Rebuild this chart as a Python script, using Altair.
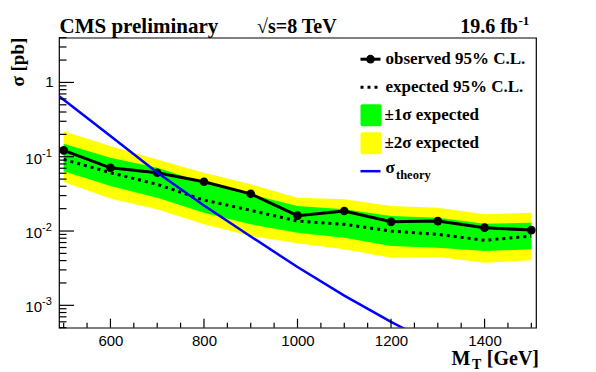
import altair as alt
import pandas as pd

# ---------------- data ----------------
mass = [500, 600, 700, 800, 900, 1000, 1100, 1200, 1300, 1400, 1500]
observed = [0.1216, 0.0710, 0.0608, 0.0461, 0.0317, 0.0161, 0.0186, 0.0133, 0.0136, 0.0111, 0.0103]
expected = [0.092, 0.061, 0.0425, 0.0261, 0.0190, 0.0136, 0.0123, 0.0100, 0.00903, 0.0075, 0.00857]
one_sigma_up = [0.149, 0.0966, 0.071, 0.0446, 0.0311, 0.0217, 0.0196, 0.0159, 0.0151, 0.0125, 0.0129]
one_sigma_down = [0.064, 0.0403, 0.0281, 0.0176, 0.0123, 0.0095, 0.00812, 0.00628, 0.00597, 0.00538, 0.00567]
two_sigma_up = [0.221, 0.139, 0.092, 0.0608, 0.0425, 0.0281, 0.0267, 0.0217, 0.0206, 0.0168, 0.0176]
two_sigma_down = [0.0456, 0.0275, 0.0196, 0.0123, 0.00857, 0.00686, 0.00567, 0.00438, 0.00448, 0.00375, 0.00404]

theory_mass = [480, 500, 600, 700, 800, 900, 1000, 1100, 1200, 1300]
theory_xsec = [0.733, 0.585, 0.19, 0.0614, 0.022, 0.00845, 0.00328, 0.00135, 0.0006, 0.00028]

x_labels = [600, 800, 1000, 1200, 1400]
x_minor = [500, 550, 650, 700, 750, 850, 900, 950, 1050, 1100, 1150, 1250, 1300, 1350, 1450, 1500]
y_major = [1.0, 0.1, 0.01, 0.001]
y_major_exp = ["", "-1", "-2", "-3"]
y_minor = [m * d for d in [0.0001, 0.001, 0.01, 0.1, 1.0] for m in range(2, 10)
           if 5e-4 <= m * d <= 4]

legend_labels = ["observed 95% C.L.", "expected 95% C.L.", "\u00b11\u03c3 expected",
                 "\u00b12\u03c3 expected"]

# ---------------- tables ----------------
df = pd.DataFrame({"mass": mass, "obs": observed, "exp": expected,
                   "s1u": one_sigma_up, "s1d": one_sigma_down,
                   "s2u": two_sigma_up, "s2d": two_sigma_down})
df_th = pd.DataFrame({"mass": theory_mass, "th": theory_xsec})
df_xmaj = pd.DataFrame({"mass": x_labels})
df_xmin = pd.DataFrame({"mass": x_minor})
df_ymaj = pd.DataFrame({"val": y_major, "exp": y_major_exp})
df_ymin = pd.DataFrame({"val": y_minor})

W, H = 477, 290
SERIF = "Liberation Serif"
SANS = "Liberation Sans"

xscale = alt.Scale(domain=[490, 1510], nice=False, zero=False)
yscale = alt.Scale(type="log", domain=[5e-4, 4], nice=False)
xaxis = alt.Axis(values=x_labels, format="d", labelFont=SANS, labelFontSize=15,
                 labelColor="black", labelPadding=6, ticks=False, domain=False, grid=False,
                 title=None, labelFlush=False)
X = alt.X("mass:Q", scale=xscale, axis=xaxis)


def Y(field):
    return alt.Y(f"{field}:Q", scale=yscale, axis=None)


base = alt.Chart(df)

band2 = base.mark_area(color="#ffff00", opacity=1).encode(x=X, y=Y("s2d"), y2="s2u:Q")
band1 = base.mark_area(color="#00ff00", opacity=1).encode(x=X, y=Y("s1d"), y2="s1u:Q")
exp_line = base.mark_line(color="black", strokeWidth=3, strokeDash=[3, 4]).encode(x=X, y=Y("exp"))
obs_line = base.mark_line(color="black", strokeWidth=3).encode(x=X, y=Y("obs"))
obs_pts = base.mark_point(filled=True, color="black", size=75, opacity=1).encode(x=X, y=Y("obs"))
theory = alt.Chart(df_th).mark_line(color="#0000ff", strokeWidth=2.5, clip=True).encode(
    x=X, y=Y("th"))

# inward ticks
xt_major = alt.Chart(df_xmaj).mark_rule(color="black", strokeWidth=1.2).encode(
    x=X, y=alt.value(H), y2=alt.value(H - 9))
xt_minor = alt.Chart(df_xmin).mark_rule(color="black", strokeWidth=1.2).encode(
    x=X, y=alt.value(H), y2=alt.value(H - 5))
yt_major = alt.Chart(df_ymaj).mark_rule(color="black", strokeWidth=1.2).encode(
    y=Y("val"), x=alt.value(0), x2=alt.value(15))
yt_minor = alt.Chart(df_ymin).mark_rule(color="black", strokeWidth=1.2).encode(
    y=Y("val"), x=alt.value(0), x2=alt.value(7.5))

# y tick labels
ylab_one = alt.Chart(df_ymaj).transform_filter("datum.val == 1").mark_text(
    font=SANS, fontSize=15, align="right", baseline="middle", color="black").encode(
    y=Y("val"), x=alt.value(-5.5), text=alt.value("1"))
ylab_ten = alt.Chart(df_ymaj).transform_filter("datum.val < 1").mark_text(
    font=SANS, fontSize=15, align="right", baseline="middle", dy=2, color="black").encode(
    y=Y("val"), x=alt.value(-17), text=alt.value("10"))
ylab_exp = alt.Chart(df_ymaj).transform_filter("datum.val < 1").mark_text(
    font=SANS, fontSize=11, align="left", baseline="middle", dy=-3, color="black").encode(
    y=Y("val"), x=alt.value(-17), text="exp:N")


def label(text, x, y, size, align="left", baseline="alphabetic", angle=0, font=SERIF,
          weight="bold"):
    kw = dict(font=font, fontSize=size, fontWeight=weight, align=align,
              baseline=baseline, color="black")
    if angle:
        kw["angle"] = angle
    return alt.Chart(pd.DataFrame({"t": [text]})).mark_text(**kw).encode(
        x=alt.value(x), y=alt.value(y), text="t:N")


# header
hdr = [
    label("CMS preliminary", 0.5, -5, 21),
    label("\u221as=8 TeV", 198, -5, 20),
    label("19.6 fb", 459, -5, 20, align="right"),
    label("-1", 459.5, -13, 13, align="left"),
]

# axis titles
titles = [
    label("M", 392.5, 327.5, 20),
    label("T", 413, 331.5, 14),
    label("[GeV]", 480, 327.5, 20, align="right"),
    label("\u03c3 [pb]", -41.5, 0, 19, align="right", baseline="middle", angle=270),
]

# legend
LX0, LX1 = 301.5, 321.5
rows = [21.5, 49.5, 77.5, 105.5, 133.5]
leg = []
leg.append(alt.Chart(pd.DataFrame({"t": [0]})).mark_rule(color="black", strokeWidth=3).encode(
    x=alt.value(LX0), x2=alt.value(LX1), y=alt.value(rows[0])))
leg.append(alt.Chart(pd.DataFrame({"t": [0]})).mark_point(filled=True, color="black", size=75,
                                                          opacity=1).encode(
    x=alt.value((LX0 + LX1) / 2), y=alt.value(rows[0])))
leg.append(alt.Chart(pd.DataFrame({"t": [0]})).mark_rule(color="black", strokeWidth=3,
                                                         strokeDash=[3, 4]).encode(
    x=alt.value(LX0), x2=alt.value(LX1), y=alt.value(rows[1])))
leg.append(alt.Chart(pd.DataFrame({"t": [0]})).mark_rect(color="#00ff00", cornerRadius=2).encode(
    x=alt.value(LX0), x2=alt.value(LX0 + 21), y=alt.value(rows[2] - 11), y2=alt.value(rows[2] + 11)))
leg.append(alt.Chart(pd.DataFrame({"t": [0]})).mark_rect(color="#ffff00", cornerRadius=2).encode(
    x=alt.value(LX0), x2=alt.value(LX0 + 21), y=alt.value(rows[3] - 11), y2=alt.value(rows[3] + 11)))
leg.append(alt.Chart(pd.DataFrame({"t": [0]})).mark_rule(color="#0000ff", strokeWidth=2.5).encode(
    x=alt.value(LX0), x2=alt.value(LX1), y=alt.value(rows[4])))
for i, txt in enumerate(legend_labels):
    leg.append(label(txt, 326.5 if i < 2 else 325.5, rows[i], 17, baseline="middle"))
leg.append(label("\u03c3", 326.5, rows[4] - 3, 17, baseline="middle"))
leg.append(label("theory", 337, rows[4] + 4, 12.5, baseline="middle"))

chart = alt.layer(
    band2, band1, exp_line, obs_line, obs_pts, theory,
    xt_major, xt_minor, yt_major, yt_minor,
    ylab_one, ylab_ten, ylab_exp,
    *hdr, *titles, *leg,
).properties(
    width=W, height=H,
    autosize=alt.AutoSizeParams(type="none"),
    padding={"left": 51, "top": 29.7, "right": 52, "bottom": 44.3},
    background="white",
).configure_view(stroke="black", strokeWidth=1.2)

chart.save("out.html", embed_options={"renderer": "svg", "actions": False})
